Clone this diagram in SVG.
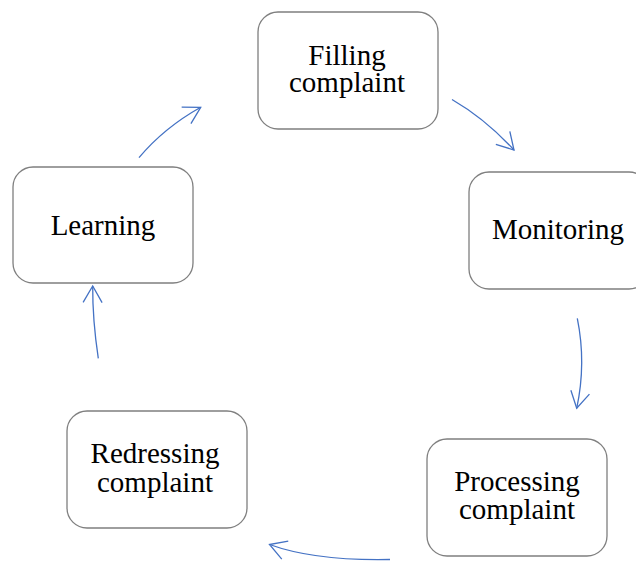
<svg xmlns="http://www.w3.org/2000/svg" width="636" height="561" viewBox="0 0 636 561">
<style>
.box{fill:#fff;stroke:#7f7f7f;stroke-width:1.3}
.lbl{font-family:"Liberation Serif","Times New Roman",serif;font-size:29px;fill:#000;text-anchor:middle}
.arr{fill:none;stroke:#4472c4;stroke-width:1.3;marker-end:url(#ah)}
</style>
<defs>
<marker id="ah" markerUnits="userSpaceOnUse" markerWidth="24" markerHeight="24" viewBox="-20 -12 22 24" refX="0" refY="0" orient="auto">
<path d="M-16.5,-9.5 L0,0 L-16.5,9.5" fill="none" stroke="#4472c4" stroke-width="1.3"/>
</marker>
</defs>
<rect width="636" height="561" fill="#fff"/>
<g id="connectors">
<path class="arr" d="M452,99.5 Q485.3,118.8 514,150"/>
<path class="arr" d="M577.3,318.3 Q586.4,363 576.7,408.3"/>
<path class="arr" d="M390,559.5 Q315,561 269.5,544.5"/>
<path class="arr" d="M98.3,358.3 Q92.5,320 92.7,286"/>
<path class="arr" d="M139,157.7 Q164.2,127.7 200.7,107.3"/>
</g>
<g id="filling">
<rect class="box" x="258" y="12" width="180" height="117" rx="20"/>
<text class="lbl" x="347" y="65">Filling</text>
<text class="lbl" x="347" y="92">complaint</text>
</g>
<g id="monitoring">
<rect class="box" x="469" y="172" width="180" height="117" rx="20"/>
<text class="lbl" x="558" y="239">Monitoring</text>
</g>
<g id="processing">
<rect class="box" x="427" y="439" width="180" height="117" rx="20"/>
<text class="lbl" x="517" y="491">Processing</text>
<text class="lbl" x="517" y="519">complaint</text>
</g>
<g id="redressing">
<rect class="box" x="67" y="411" width="180" height="117" rx="20"/>
<text class="lbl" x="155" y="463">Redressing</text>
<text class="lbl" x="155" y="492">complaint</text>
</g>
<g id="learning">
<rect class="box" x="13" y="167" width="180" height="116" rx="20"/>
<text class="lbl" x="103" y="235">Learning</text>
</g>
</svg>
